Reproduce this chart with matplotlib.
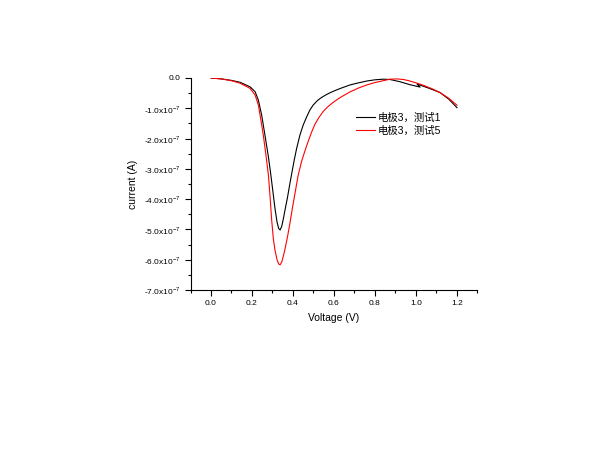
import matplotlib
matplotlib.use("Agg")
import matplotlib.pyplot as plt
from matplotlib.ticker import MultipleLocator, FuncFormatter

plt.rcParams['font.family'] = ['Liberation Sans', 'Noto Sans CJK SC', 'DejaVu Sans']
plt.rcParams['mathtext.fontset'] = 'custom'
plt.rcParams['mathtext.rm'] = 'Liberation Sans'

# Data (current in units of 1e-7 A)
v1 = [0.0, 0.05, 0.10, 0.141, 0.19, 0.215, 0.231, 0.247, 0.263, 0.28, 0.291, 0.302,
      0.312, 0.322, 0.330, 0.337, 0.345, 0.353, 0.361, 0.373, 0.385, 0.394, 0.406,
      0.418, 0.434, 0.45, 0.467, 0.483, 0.499, 0.52, 0.54, 0.56, 0.58, 0.60, 0.629,
      0.678, 0.72, 0.76, 0.80, 0.84, 0.873, 0.92, 0.97, 1.02, 1.005, 1.06, 1.117,
      1.16, 1.2]
i1 = [0.0, -0.03, -0.08, -0.14, -0.29, -0.45, -0.73, -1.22, -1.88, -2.6, -3.15, -3.75,
      -4.3, -4.75, -4.97, -5.02, -4.9, -4.65, -4.36, -3.95, -3.48, -3.15, -2.71,
      -2.32, -1.88, -1.55, -1.28, -1.05, -0.89, -0.74, -0.64, -0.56, -0.49, -0.43, -0.35,
      -0.23, -0.16, -0.10, -0.06, -0.04, -0.05, -0.12, -0.22, -0.30, -0.20, -0.33, -0.48,
      -0.70, -0.98]

v5 = [0.0, 0.05, 0.10, 0.141, 0.19, 0.215, 0.231, 0.242, 0.255, 0.268, 0.28, 0.288,
      0.296, 0.304, 0.312, 0.322, 0.33, 0.337, 0.345, 0.353, 0.361, 0.373, 0.385,
      0.397, 0.41, 0.425, 0.442, 0.462, 0.475, 0.49, 0.507, 0.525, 0.548, 0.57, 0.597,
      0.629, 0.678, 0.72, 0.76, 0.80, 0.84, 0.873, 0.906, 0.94, 0.97, 1.0, 1.036,
      1.08, 1.117, 1.16, 1.2]
i5 = [0.0, -0.03, -0.09, -0.17, -0.34, -0.56, -0.89, -1.33, -1.88, -2.54, -3.2, -3.9,
      -4.69, -5.3, -5.68, -6.0, -6.14, -6.17, -6.08, -5.88, -5.65, -5.25, -4.8,
      -4.3, -3.8, -3.22, -2.75, -2.33, -2.08, -1.8, -1.53, -1.32, -1.1, -0.95, -0.8,
      -0.65, -0.46, -0.33, -0.23, -0.15, -0.09, -0.04, -0.03, -0.05, -0.10, -0.16, -0.24,
      -0.36, -0.48, -0.67, -0.90]

labels = ['电极3，测试1', '电极3，测试5']
colors = ['black', 'red']

fig = plt.figure(figsize=(6, 4.5), dpi=100)
ax = fig.add_axes([0.3175, 0.3556, 0.4783, 0.4711])

ax.plot(v1, [y * 1e-7 for y in i1], color=colors[0], lw=0.8, label=labels[0])
ax.plot(v5, [y * 1e-7 for y in i5], color=colors[1], lw=0.8, label=labels[1])

ax.set_xlim(-0.1, 1.3)
ax.set_ylim(-7.0e-7, 0.0)
ax.xaxis.set_major_locator(MultipleLocator(0.2))
ax.xaxis.set_minor_locator(MultipleLocator(0.1))
ax.yaxis.set_major_locator(MultipleLocator(1e-7))
ax.yaxis.set_minor_locator(MultipleLocator(0.5e-7))

def yfmt(val, pos):
    m = round(val / 1e-7, 1)
    if abs(m) < 1e-9:
        return '0.0'
    return '%.1fx10$^{-7}$' % m

ax.yaxis.set_major_formatter(FuncFormatter(yfmt))
ax.xaxis.set_major_formatter(FuncFormatter(lambda v, p: '%.1f' % v))

for s in ['top', 'right']:
    ax.spines[s].set_visible(False)
for s in ['left', 'bottom']:
    ax.spines[s].set_linewidth(0.8)
ax.tick_params(which='major', direction='out', length=4, width=0.8, labelsize=6)
ax.tick_params(which='minor', direction='out', length=2.5, width=0.8)
ax.patch.set_alpha(0)

ax.set_xlabel('Voltage (V)', fontsize=7.5, labelpad=4)
ax.set_ylabel('current (A)', fontsize=7.5, labelpad=4)

ax.legend(loc='upper left', bbox_to_anchor=(0.56, 0.86), frameon=False,
          fontsize=7.5, handlelength=1.8, handletextpad=0.2, labelspacing=0.25,
          borderpad=0)

fig.savefig('out.png', dpi=100)
